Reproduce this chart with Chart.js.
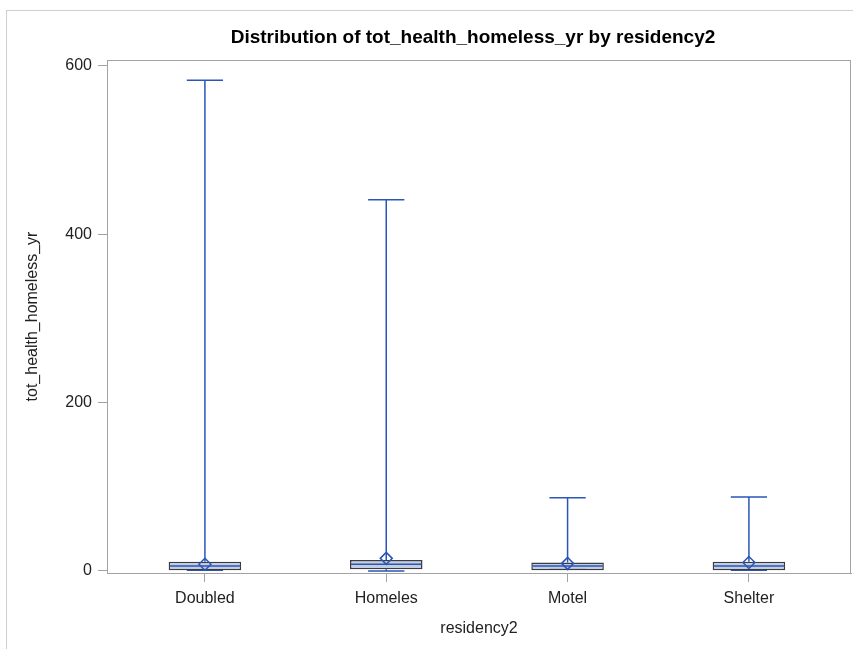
<!DOCTYPE html>
<html lang="en">
<head>
  <meta charset="UTF-8">
  <title>Distribution of tot_health_homeless_yr by residency2</title>
  <style>
    body {
      margin: 0;
      padding: 0;
      overflow: hidden;
      background-color: #fff;
    }

    .frame {
      position: absolute;
      left: 6px;
      top: 10px;
      width: 853px;
      height: 649px;
      border-left: 1px solid #cfcfcf;
      border-top: 1px solid #cfcfcf;
    }

    .chart-container {
      position: absolute;
      left: 0;
      top: 0;
      width: 853px;
      height: 649px;
    }
  </style>
</head>
<body>
  <div class="frame"></div>
  <div class="chart-container">
    <canvas id="box-chart" width="853" height="649"></canvas>
  </div>

  <script src="https://cdn.jsdelivr.net/npm/chart.js"></script>
  <script>
    // Box plot summary per residency group
    const categories = ['Doubled', 'Homeles', 'Motel', 'Shelter'];
    const mins = [1, 0, 2, 1];
    const q1s = [1, 2, 1, 1];
    const medians = [6, 8, 6, 6];
    const q3s = [11, 13, 10, 11];
    const maxs = [583, 441, 87, 88];
    const means = [8, 15, 9, 10];
    const yTicks = [0, 200, 400, 600];

    const titleText = 'Distribution of tot_health_homeless_yr by residency2';
    const whiskerColor = '#2a56b8';
    const axisColor = '#a3a3a3';
    const fontFamily = 'Liberation Sans, Arial, sans-serif';

    // Whiskers, caps, median line, frame and title drawn from the chart's scales
    const boxExtras = {
      id: 'boxExtras',
      beforeDatasetsDraw(chart) {
        const { ctx, scales: { x, y } } = chart;
        const boxMeta = chart.getDatasetMeta(0);
        ctx.save();
        ctx.strokeStyle = whiskerColor;
        ctx.lineWidth = 1.5;
        categories.forEach((cat, i) => {
          const cx = x.getPixelForValue(i);
          const half = boxMeta.data[i].width / 4;
          ctx.beginPath();
          ctx.moveTo(cx, y.getPixelForValue(maxs[i]));
          ctx.lineTo(cx, y.getPixelForValue(q3s[i]));
          ctx.moveTo(cx, y.getPixelForValue(q1s[i]));
          ctx.lineTo(cx, y.getPixelForValue(mins[i]));
          ctx.moveTo(cx - half, y.getPixelForValue(maxs[i]));
          ctx.lineTo(cx + half, y.getPixelForValue(maxs[i]));
          ctx.moveTo(cx - half, y.getPixelForValue(mins[i]));
          ctx.lineTo(cx + half, y.getPixelForValue(mins[i]));
          ctx.stroke();
        });
        ctx.restore();
      },
      afterDatasetsDraw(chart) {
        const { ctx, chartArea, scales: { y } } = chart;
        const boxMeta = chart.getDatasetMeta(0);
        ctx.save();
        ctx.strokeStyle = whiskerColor;
        ctx.lineWidth = 1.5;
        categories.forEach((cat, i) => {
          const bar = boxMeta.data[i];
          const left = bar.x - bar.width / 2 + 1;
          const right = bar.x + bar.width / 2 - 1;
          const my = y.getPixelForValue(medians[i]);
          ctx.beginPath();
          ctx.moveTo(left, my);
          ctx.lineTo(right, my);
          ctx.stroke();
        });
        // plot frame
        ctx.strokeStyle = axisColor;
        ctx.lineWidth = 1;
        ctx.strokeRect(chartArea.left + 0.5, chartArea.top + 0.5,
          chartArea.right - chartArea.left - 1, chartArea.bottom - chartArea.top);
        // title centred over the plot area
        ctx.fillStyle = '#000';
        ctx.font = 'bold 19px ' + fontFamily;
        ctx.textAlign = 'center';
        ctx.textBaseline = 'middle';
        ctx.fillText(titleText, (chartArea.left + chartArea.right) / 2 - 6, 38);
        ctx.restore();
      }
    };

    const ctx = document.getElementById('box-chart').getContext('2d');
    const boxChart = new Chart(ctx, {
      type: 'bar',
      data: {
        labels: categories,
        datasets: [{
          label: 'Box',
          data: categories.map((_, i) => [q1s[i], q3s[i]]),
          backgroundColor: '#c3cde2',
          borderColor: '#3c3c3c',
          borderWidth: 1.5,
          borderSkipped: false,
          categoryPercentage: 1,
          barPercentage: 0.40,
          order: 2
        }, {
          type: 'line',
          label: 'Mean',
          data: means,
          showLine: false,
          pointStyle: 'rectRot',
          pointRadius: 6,
          pointBorderWidth: 1.5,
          pointBorderColor: whiskerColor,
          pointBackgroundColor: 'rgba(0,0,0,0)',
          order: 1
        }]
      },
      options: {
        responsive: false,
        animation: false,
        layout: {
          autoPadding: false,
          padding: { left: 0, right: 2, top: 60, bottom: 0 }
        },
        plugins: {
          legend: { display: false },
          tooltip: { enabled: false },
          title: { display: false }
        },
        scales: {
          x: {
            type: 'category',
            offset: true,
            grid: {
              display: true,
              drawOnChartArea: false,
              drawTicks: true,
              offset: false,
              tickLength: 9,
              color: axisColor
            },
            border: { display: true, color: axisColor },
            ticks: {
              color: '#222',
              padding: 7,
              maxRotation: 0,
              font: { family: fontFamily, size: 16 }
            },
            title: {
              display: true,
              text: 'residency2',
              color: '#222',
              font: { family: fontFamily, size: 16 },
              padding: { top: 4, bottom: 11 }
            },
            afterCalculateLabelRotation(scale) {
              // SAS leaves slightly more than half a category at each end
              scale._startValue = -0.54;
              scale._valueRange = categories.length - 1 + 0.54 + 0.563;
            },
            afterFit(scale) {
              scale.height = 76;
              scale.paddingLeft = 0;
              scale.paddingRight = 0;
            }
          },
          y: {
            min: -2.4,
            max: 607,
            afterBuildTicks(scale) {
              scale.ticks = yTicks.map(v => ({ value: v }));
            },
            grid: {
              display: true,
              drawOnChartArea: false,
              drawTicks: true,
              tickLength: 9,
              color: axisColor
            },
            border: { display: true, color: axisColor },
            ticks: {
              color: '#222',
              padding: 6,
              font: { family: fontFamily, size: 16 }
            },
            title: {
              display: true,
              text: 'tot_health_homeless_yr',
              color: '#222',
              font: { family: fontFamily, size: 16 },
              padding: { top: 23, bottom: 4 }
            },
            afterFit(scale) {
              scale.width = 107;
              scale.paddingTop = 0;
              scale.paddingBottom = 0;
            }
          }
        }
      },
      plugins: [boxExtras]
    });
  </script>
</body>
</html>
